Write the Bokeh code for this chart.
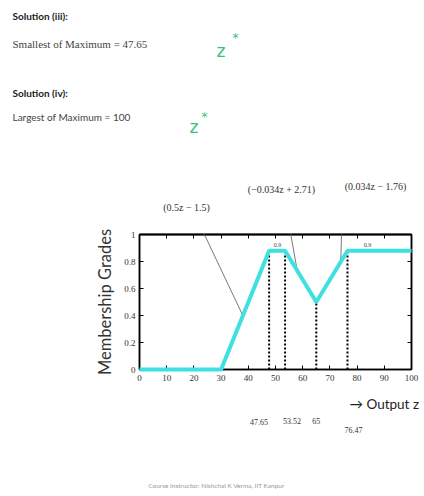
from bokeh.plotting import figure
from bokeh.models import (Range1d, LinearAxis, Label, Arrow, TeeHead, NormalHead, FixedTicker,
                          ColumnDataSource)
from bokeh.core.properties import value
from bokeh.embed import file_html
from bokeh.resources import INLINE
import numpy as np

# ---------------- data ----------------
z_pts = [0, 30, 47.65, 53.52, 65, 76.47, 100]
mu_pts = [0, 0, 0.88, 0.88, 0.5, 0.88, 0.88]
cut_z = [47.65, 53.52, 65, 76.47]
cut_labels = ["47.65", "53.52", "65", "76.47"]
peak_z = [50.7, 83.8]
peak_labels = ["0.9", "0.9"]
formula_labels = ["(0.5z \u2212 1.5)", "(\u22120.034z + 2.71)", "(0.034z \u2212 1.76)"]
formula_target_z = [38, 58, 74]
x_ticks = [0, 10, 20, 30, 40, 50, 60, 70, 80, 90, 100]
y_ticks = [0, 0.2, 0.4, 0.6, 0.8, 1]
y_tick_labels = ["0", "0.2", "0.4", "0.6", "0.8", "1"]
som_value = "47.65"
lom_value = "100"

CYAN = "#3fe0e2"
GREEN = "#35c27f"

W, H = 424, 496
FX0, FX1, FY0, FY1 = 139, 411, 369, 234   # frame edges in canvas pixels
def px2x(px):
    return float((px - FX0) / (FX1 - FX0) * 100)
def py2y(py):
    return float((FY0 - py) / (FY0 - FY1))
def x2px(x):
    return FX0 + x / 100 * (FX1 - FX0)
def y2py(y):
    return FY0 - y * (FY0 - FY1)

p = figure(width=W, height=H, x_range=Range1d(0, 100), y_range=Range1d(0, 1),
           output_backend="svg", toolbar_location=None,
           min_border_left=FX0, min_border_right=W - FX1,
           min_border_top=FY1, min_border_bottom=H - FY0)
p.grid.visible = False
p.outline_line_color = "black"
p.outline_line_width = 1.5

p.xaxis.ticker = FixedTicker(ticks=x_ticks)
p.yaxis.ticker = FixedTicker(ticks=y_ticks)
p.yaxis.major_label_overrides = dict(zip(y_ticks, y_tick_labels))

above = LinearAxis(ticker=FixedTicker(ticks=x_ticks),
                   major_label_overrides={t: "" for t in x_ticks})
right = LinearAxis(ticker=FixedTicker(ticks=y_ticks),
                   major_label_overrides={t: "" for t in y_ticks})
p.add_layout(above, "above")
p.add_layout(right, "right")

for ax in p.axis:
    ax.major_tick_in = 4
    ax.major_tick_out = 0
    ax.minor_tick_line_color = None
    ax.axis_line_color = "black"
    ax.axis_line_width = 1.5
    ax.major_tick_line_color = "black"
    ax.major_label_text_font = "Liberation Serif"
    ax.major_label_text_color = "#333"
    ax.major_label_text_font_size = "9px"
above.major_label_standoff = 0
right.major_label_standoff = 0
p.xaxis[0].major_label_standoff = 2
p.xaxis[0].axis_line_width = 2
p.yaxis[0].major_label_standoff = 4
p.yaxis[0].axis_label = "Membership Grades"
p.yaxis[0].axis_label_text_font = "Lato"
p.yaxis[0].axis_label_text_font_size = "16.5px"
p.yaxis[0].axis_label_text_font_style = "normal"
p.yaxis[0].axis_label_text_color = "#333"
p.yaxis[0].axis_label_standoff = 6

# membership curve
p.line(z_pts, mu_pts, line_color=CYAN, line_width=4, level="overlay")

# 0.9 peak labels
p.text(x=peak_z, y=[0.92] * len(peak_z), text=peak_labels, text_font=value("Liberation Serif"),
       text_font_size="6px", text_color="#444", text_align="center", text_baseline="middle")

def add_label(side, x, y, text, font, size, color, style="normal", align="left", xo=0, yo=0):
    p.add_layout(Label(x=float(x), y=float(y), text=text, text_font=font, text_font_size=size,
                       text_color=color, text_font_style=style, text_align=align,
                       text_baseline="middle", x_offset=xo, y_offset=yo), side)

# strokes outside the frame are drawn as chains of tiny arrow heads
groups = {
    "grey":  dict(size=1.3, color="#555", rows=[]),
    "dots":  dict(size=2.4, color="black", rows=[]),
    "green": dict(size=2.4, color=GREEN, rows=[]),
    "end":   dict(size=4.0, color="black", rows=[]),
}

def chain(x0, y0, x1, y1, grp, spacing):
    L = float(np.hypot(x1 - x0, y1 - y0))
    if L < 0.1:
        return
    ux, uy = (x1 - x0) / L, (y1 - y0) / L
    t = 0.0
    while t <= L:
        px, py = x0 + ux * t, y0 + uy * t
        groups[grp]["rows"].append((px, py, px + ux, py + uy))
        t += spacing

def tee(x0, y0, x1, y1, color, width, dash, cap):
    L = float(np.hypot(x1 - x0, y1 - y0))
    if L < 0.5:
        return
    mx, my = (x0 + x1) / 2, (y0 + y1) / 2
    nx, ny = -(y1 - y0) / L, (x1 - x0) / L
    p.add_layout(Arrow(x_start=px2x(mx + 2 * nx), y_start=py2y(my + 2 * ny),
                       x_end=px2x(mx), y_end=py2y(my), line_alpha=0,
                       end=TeeHead(size=L, line_color=color, line_width=width,
                                   line_dash=dash, line_cap=cap)), "below")

def seg(x0, y0, x1, y1, color, width, grp, spacing, dash="solid", cap="butt"):
    """straight stroke between canvas-pixel points; inside the frame a tee head, outside a chain"""
    dx, dy = x1 - x0, y1 - y0
    t0, t1 = 0.0, 1.0
    for pp, qq in ((-dx, x0 - FX0), (dx, FX1 - x0), (-dy, y0 - FY1), (dy, FY0 - y0)):
        if pp == 0:
            if qq < 0:
                t0, t1 = 1.0, 0.0
            continue
        r = qq / pp
        if pp < 0:
            t0 = max(t0, r)
        else:
            t1 = min(t1, r)
    pt = lambda t: (x0 + t * dx, y0 + t * dy)
    if t0 >= t1:
        chain(x0, y0, x1, y1, grp, spacing)
        return
    if t0 > 0:
        chain(*pt(0), *pt(t0), grp, spacing)
    tee(*pt(t0), *pt(t1), color, width, dash, cap)
    if t1 < 1:
        a = pt(t1)
        b = pt(1)
        chain(a[0], a[1] + (2 if grp == "dots" else 0), b[0], b[1], grp, spacing)

# dotted cut lines and their labels
cut_mu = np.interp(cut_z, z_pts, mu_pts)
for z, m in zip(cut_z, cut_mu):
    seg(x2px(z), y2py(m), x2px(z), y2py(-0.35), "black", 2, "dots", 4, dash="2 2")
cut_off_x = [-10, 7, 0, 6]
cut_off_y = [0, 1, 1, -8]
for z, lab, ox, oy in zip(cut_z, cut_labels, cut_off_x, cut_off_y):
    add_label("below", z, -0.39, lab, "Liberation Serif", "8px", "#333", align="center", xo=ox, yo=oy)

# formula labels with leader lines
lab_px = [186, 281, 375]
lab_py = [207, 189, 186]
dot_px = [194, 284, 342]
dot_py = [213, 199, 195]
tgt_mu = np.interp(formula_target_z, z_pts, mu_pts)
for dx, dy, tz, tm in zip(dot_px, dot_py, formula_target_z, tgt_mu):
    tx, ty = x2px(tz), y2py(tm)
    seg(dx, dy, tx, ty, "#555", 0.8, "grey", 0.7)
    L = float(np.hypot(tx - dx, ty - dy))
    groups["end"]["rows"].append((dx - (tx - dx) / L * 2, dy - (ty - dy) / L * 2,
                                  dx + (tx - dx) / L, dy + (ty - dy) / L))
for lx, ly, txt in zip(lab_px, lab_py, formula_labels):
    add_label("above", px2x(lx), py2y(ly), txt, "Liberation Serif", "10px", "#333", align="center")

add_label("below", px2x(349), py2y(403), "\u2192 Output z", "Lato", "13.5px", "#222")
add_label("below", px2x(216), py2y(485), "Course Instructor: Nishchal K Verma, IIT Kanpur",
          "Lato", "6.5px", "#999", align="center")

# ---------------- slide text above the chart ----------------
add_label("above", px2x(12), py2y(15), "Solution (iii):", "Lato", "10px", "#222", style="bold")
add_label("above", px2x(12), py2y(43), "Smallest of Maximum = " + som_value, "Liberation Serif", "11px", "#444")
add_label("above", px2x(12), py2y(92), "Solution (iv):", "Lato", "10px", "#222", style="bold")
add_label("above", px2x(12), py2y(116), "Largest of Maximum = " + lom_value, "Lato", "10px", "#444")

# hand-drawn green arrows
def cubic(p0, c0, c1, p1, n=16):
    t = np.linspace(0, 1, n)
    bx = (1 - t) ** 3 * p0[0] + 3 * (1 - t) ** 2 * t * c0[0] + 3 * (1 - t) * t ** 2 * c1[0] + t ** 3 * p1[0]
    by = (1 - t) ** 3 * p0[1] + 3 * (1 - t) ** 2 * t * c0[1] + 3 * (1 - t) * t ** 2 * c1[1] + t ** 3 * p1[1]
    return bx, by

for crv, wing in [(((224, 43), (215, 24), (175, 26), (151, 44)), [(160, 37), (150, 44), (161, 48)]),
                  (((198, 109), (190, 93), (155, 93), (134, 115)), [(141, 108), (133, 115), (142, 118)])]:
    bx, by = cubic(*crv)
    for i in range(len(bx) - 1):
        chain(bx[i], by[i], bx[i + 1], by[i + 1], "green", 0.9)
    for (a, b), (c, d) in zip(wing[:-1], wing[1:]):
        chain(a, b, c, d, "green", 0.9)

for g in groups.values():
    rows = g["rows"]
    src = ColumnDataSource(dict(x0=[px2x(r[0]) for r in rows], y0=[py2y(r[1]) for r in rows],
                                x1=[px2x(r[2]) for r in rows], y1=[py2y(r[3]) for r in rows]))
    p.add_layout(Arrow(start=NormalHead(size=g["size"], fill_color=g["color"],
                                        line_color=g["color"], line_width=0.4),
                       end=None, x_start="x0", y_start="y0", x_end="x1", y_end="y1",
                       source=src, line_alpha=0), "below")

add_label("above", px2x(216), py2y(50), "z", "DejaVu Sans", "17px", GREEN)
add_label("above", px2x(232), py2y(37), "*", "DejaVu Sans", "12px", GREEN)
add_label("above", px2x(189), py2y(126), "z", "DejaVu Sans", "17px", GREEN)
add_label("above", px2x(201), py2y(116), "*", "DejaVu Sans", "12px", GREEN)

open("out.html", "w").write(file_html(p, INLINE))
